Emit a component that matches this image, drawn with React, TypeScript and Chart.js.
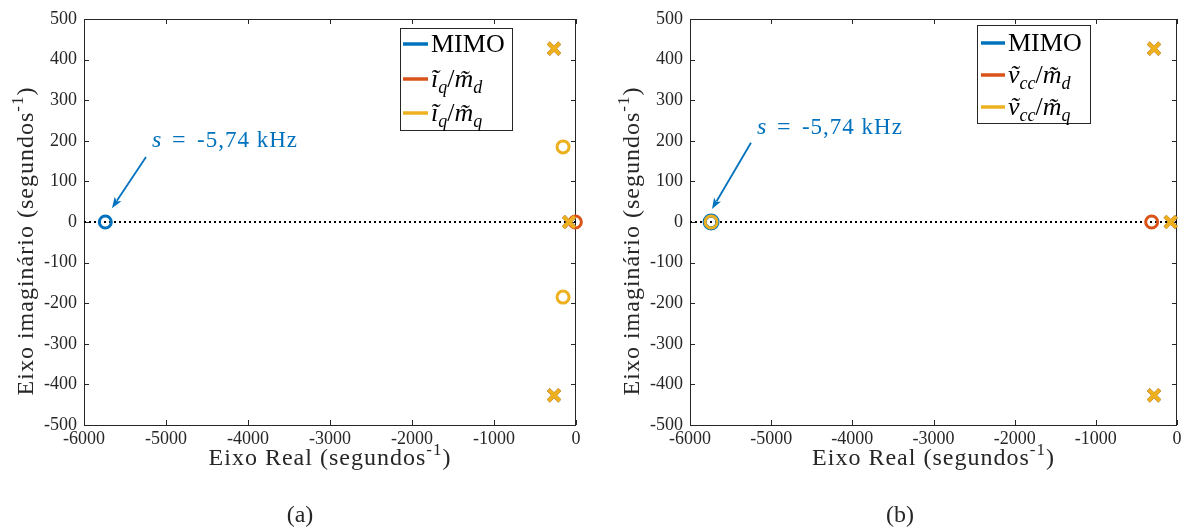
import React, { useEffect, useRef } from "react";
import { Chart, registerables } from "chart.js";

Chart.register(...registerables);

const BLUE = "#0072BD";
const RED = "#D95319";
const YELLOW = "#EDB120";
const AXIS = "#262626";
const FONT = "'Liberation Serif', 'Times New Roman', serif";

// ---- Shared ticks ----
const xTickValues = [-6000, -5000, -4000, -3000, -2000, -1000, 0];
const yTickValues = [-500, -400, -300, -200, -100, 0, 100, 200, 300, 400, 500];
const realAxisX = [-6000, 0];
const realAxisY = [0, 0];

// ---- Panel (a) ----
const aMimoZerosX = [-5740];
const aMimoZerosY = [0];
const aPolesX = [-268, -268, -85];
const aPolesY = [427, -427, 0];
const aIqMdZerosX = [-8];
const aIqMdZerosY = [0];
const aIqMqZerosX = [-158, -158];
const aIqMqZerosY = [185, -185];

// ---- Panel (b) ----
const bMimoZerosX = [-5740];
const bMimoZerosY = [0];
const bPolesX = [-283, -283, -78];
const bPolesY = [427, -427, 0];
const bVccMdZerosX = [-312];
const bVccMdZerosY = [0];
const bVccMqZerosX = [-5740];
const bVccMqZerosY = [0];

type Seg = { t: string; it?: boolean; sub?: boolean; sup?: boolean };

const pts = (xs: number[], ys: number[]) => xs.map((x, i) => ({ x, y: ys[i] }));

function drawRich(
  ctx: CanvasRenderingContext2D,
  segs: Seg[],
  x: number,
  y: number,
  size: number,
  color: string,
  align: "left" | "center",
  spacing = 0
) {
  const fontFor = (s: Seg) =>
    `${s.it ? "italic " : ""}${s.sub || s.sup ? Math.round(size * 0.7) : size}px ${FONT}`;
  ctx.save();
  (ctx as any).letterSpacing = `${spacing}px`;
  ctx.textAlign = "left";
  ctx.textBaseline = "alphabetic";
  ctx.fillStyle = color;
  const widths = segs.map((s) => {
    ctx.font = fontFor(s);
    return ctx.measureText(s.t).width;
  });
  const total = widths.reduce((a, b) => a + b, 0);
  let cx = align === "center" ? x - total / 2 : x;
  segs.forEach((s, i) => {
    ctx.font = fontFor(s);
    const dy = s.sub ? size * 0.22 : s.sup ? -size * 0.42 : 0;
    ctx.fillText(s.t, cx, y + dy);
    cx += widths[i];
  });
  ctx.restore();
}

type PanelCfg = {
  left: number;
  width: number;
  yAxisW: number;
  padRight: number;
  letter: string;
  letterX: number;
  yTitleX: number;
  legend: { x: number; y: number; w: number; h: number; lx1: number; lx2: number; tx: number; rows: number[] };
  rows: { color: string; segs: Seg[] }[];
  ann: { tx: number; ty: number; ax1: number; ay1: number; ax2: number; ay2: number };
  datasets: any[];
};

const zeroDs = (label: string, color: string, data: any[], order: number) => ({
  label,
  data,
  pointStyle: "circle",
  pointRadius: 6,
  pointBorderWidth: 3,
  pointBorderColor: color,
  pointBackgroundColor: "rgba(0,0,0,0)",
  showLine: false,
  clip: false,
  order,
});
const poleDs = (label: string, color: string, data: any[], order: number) => ({
  label,
  data,
  pointStyle: "crossRot",
  pointRadius: 8,
  pointBorderWidth: 4,
  pointBorderColor: color,
  pointBackgroundColor: color,
  showLine: false,
  clip: false,
  order,
});
const axisDs = () => ({
  label: "eixo",
  data: pts(realAxisX, realAxisY),
  showLine: true,
  borderColor: "#000",
  borderWidth: 2,
  borderDash: [2, 3],
  pointRadius: 0,
  clip: false,
  order: 10,
});

const iq: Seg[] = [{ t: "ĩ", it: true }, { t: "q", it: true, sub: true }];
const vcc: Seg[] = [{ t: "ṽ", it: true }, { t: "cc", it: true, sub: true }];
const md: Seg[] = [{ t: "/" }, { t: "m\u0303", it: true }, { t: "d", it: true, sub: true }];
const mq: Seg[] = [{ t: "/" }, { t: "m\u0303", it: true }, { t: "q", it: true, sub: true }];

const panels: PanelCfg[] = [
  {
    left: 0,
    width: 593,
    yAxisW: 84,
    padRight: 17,
    letter: "(a)",
    letterX: 300,
    yTitleX: 33,
    legend: { x: 400, y: 28, w: 112, h: 102, lx1: 403, lx2: 428, tx: 431, rows: [44, 79, 113] },
    rows: [
      { color: BLUE, segs: [{ t: "MIMO" }] },
      { color: RED, segs: [...iq, ...md] },
      { color: YELLOW, segs: [...iq, ...mq] },
    ],
    ann: { tx: -5171, ty: 185, ax1: -5244, ay1: 160, ax2: -5659, ay2: 34 },
    datasets: [
      zeroDs("iq/mq zeros", YELLOW, pts(aIqMqZerosX, aIqMqZerosY), 0),
      poleDs("iq/mq poles", YELLOW, pts(aPolesX, aPolesY), 1),
      zeroDs("iq/md zeros", RED, pts(aIqMdZerosX, aIqMdZerosY), 2),
      poleDs("iq/md poles", RED, pts(aPolesX, aPolesY), 3),
      zeroDs("MIMO zeros", BLUE, pts(aMimoZerosX, aMimoZerosY), 4),
      poleDs("MIMO poles", BLUE, pts(aPolesX, aPolesY), 5),
      axisDs(),
    ],
  },
  {
    left: 593,
    width: 594,
    yAxisW: 97,
    padRight: 10,
    letter: "(b)",
    letterX: 900,
    yTitleX: 639,
    legend: { x: 977, y: 25, w: 113, h: 98, lx1: 981, lx2: 1005, tx: 1008, rows: [43, 75, 107] },
    rows: [
      { color: BLUE, segs: [{ t: "MIMO" }] },
      { color: RED, segs: [...vcc, ...md] },
      { color: YELLOW, segs: [...vcc, ...mq] },
    ],
    ann: { tx: -5175, ty: 217, ax1: -5249, ay1: 195, ax2: -5729, ay2: 32 },
    datasets: [
      zeroDs("vcc/mq zeros", YELLOW, pts(bVccMqZerosX, bVccMqZerosY), 0),
      poleDs("vcc/mq poles", YELLOW, pts(bPolesX, bPolesY), 1),
      zeroDs("vcc/md zeros", RED, pts(bVccMdZerosX, bVccMdZerosY), 2),
      poleDs("vcc/md poles", RED, pts(bPolesX, bPolesY), 3),
      zeroDs("MIMO zeros", BLUE, pts(bMimoZerosX, bMimoZerosY), 4),
      {
        ...zeroDs("MIMO zeros outline", BLUE, pts(bMimoZerosX, bMimoZerosY), 5),
        pointRadius: 6.5,
        pointBorderWidth: 4,
      },
      poleDs("MIMO poles", BLUE, pts(bPolesX, bPolesY), 6),
      axisDs(),
    ],
  },
];

function makePlugin(p: PanelCfg) {
  return {
    id: "overlay",
    beforeDatasetsDraw(chart: any) {
      const { ctx, chartArea: ca, scales } = chart;
      ctx.save();
      ctx.strokeStyle = AXIS;
      ctx.lineWidth = 1;
      ctx.strokeRect(Math.round(ca.left) + 0.5, Math.round(ca.top) + 0.5, Math.round(ca.right - ca.left) - 1, Math.round(ca.bottom - ca.top));
      const tl = 5;
      ctx.beginPath();
      xTickValues.forEach((v) => {
        const px = Math.round(scales.x.getPixelForValue(v)) + 0.5;
        ctx.moveTo(px, ca.bottom);
        ctx.lineTo(px, ca.bottom - tl);
        ctx.moveTo(px, ca.top);
        ctx.lineTo(px, ca.top + tl);
      });
      yTickValues.forEach((v) => {
        const py = Math.round(scales.y.getPixelForValue(v)) + 0.5;
        ctx.moveTo(ca.left, py);
        ctx.lineTo(ca.left + tl, py);
        ctx.moveTo(ca.right, py);
        ctx.lineTo(ca.right - tl, py);
      });
      ctx.stroke();
      ctx.restore();
    },
    afterDraw(chart: any) {
      const { ctx, chartArea: ca, scales } = chart;
      const off = p.left;
      // axis titles
      const cx = (ca.left + ca.right) / 2;
      drawRich(ctx, [{ t: "Eixo Real (segundos" }, { t: "-1", sup: true }, { t: ")" }], cx, 465, 24, AXIS, "center", 1);
      ctx.save();
      ctx.translate(p.yTitleX - off, 241);
      ctx.rotate(-Math.PI / 2);
      drawRich(ctx, [{ t: "Eixo imaginário (segundos" }, { t: "-1", sup: true }, { t: ")" }], 0, 0, 24, AXIS, "center", 1);
      ctx.restore();
      // panel letter
      drawRich(ctx, [{ t: p.letter }], p.letterX - off, 522, 24, AXIS, "center", 0);

      // annotation
      const a = p.ann;
      const x1 = scales.x.getPixelForValue(a.ax1);
      const y1 = scales.y.getPixelForValue(a.ay1);
      const x2 = scales.x.getPixelForValue(a.ax2);
      const y2 = scales.y.getPixelForValue(a.ay2);
      const ang = Math.atan2(y2 - y1, x2 - x1);
      const hl = 11;
      const hw = 4;
      ctx.save();
      ctx.strokeStyle = BLUE;
      ctx.fillStyle = BLUE;
      ctx.lineWidth = 1.8;
      ctx.beginPath();
      ctx.moveTo(x1, y1);
      ctx.lineTo(x2 - Math.cos(ang) * hl * 0.8, y2 - Math.sin(ang) * hl * 0.8);
      ctx.stroke();
      ctx.beginPath();
      ctx.moveTo(x2, y2);
      ctx.lineTo(x2 - Math.cos(ang) * hl - Math.sin(ang) * hw, y2 - Math.sin(ang) * hl + Math.cos(ang) * hw);
      ctx.lineTo(x2 - Math.cos(ang) * hl * 0.75, y2 - Math.sin(ang) * hl * 0.75);
      ctx.lineTo(x2 - Math.cos(ang) * hl + Math.sin(ang) * hw, y2 - Math.sin(ang) * hl - Math.cos(ang) * hw);
      ctx.closePath();
      ctx.fill();
      ctx.restore();
      const tx = scales.x.getPixelForValue(a.tx);
      const ty = scales.y.getPixelForValue(a.ty);
      drawRich(ctx, [{ t: "s", it: true }], tx, ty, 24, BLUE, "left");
      drawRich(ctx, [{ t: "=" }], tx + 20, ty, 24, BLUE, "left");
      drawRich(ctx, [{ t: "-5,74 kHz" }], tx + 45, ty, 23, BLUE, "left", 1);

      // legend
      const L = p.legend;
      ctx.save();
      ctx.fillStyle = "#fff";
      ctx.fillRect(L.x - off, L.y, L.w, L.h);
      ctx.strokeStyle = AXIS;
      ctx.lineWidth = 1;
      ctx.strokeRect(L.x - off + 0.5, L.y + 0.5, L.w, L.h);
      p.rows.forEach((r, i) => {
        ctx.strokeStyle = r.color;
        ctx.lineWidth = 3.5;
        ctx.beginPath();
        ctx.moveTo(L.lx1 - off, L.rows[i]);
        ctx.lineTo(L.lx2 - off, L.rows[i]);
        ctx.stroke();
      });
      ctx.restore();
      p.rows.forEach((r, i) => {
        drawRich(ctx, r.segs, L.tx - off, L.rows[i] + 8, 26, "#000", "left");
      });
    },
  };
}

function Panel({ p }: { p: PanelCfg }) {
  const ref = useRef<HTMLCanvasElement>(null);
  useEffect(() => {
    const chart = new Chart(ref.current!, {
      type: "scatter",
      data: { datasets: p.datasets },
      options: {
        animation: false,
        responsive: false,
        devicePixelRatio: 1,
        layout: { autoPadding: false, padding: { left: 0, right: p.padRight, top: 19, bottom: 0 } },
        plugins: { legend: { display: false }, tooltip: { enabled: false } },
        scales: {
          x: {
            type: "linear",
            min: -6000,
            max: 0,
            afterBuildTicks: (s: any) => {
              s.ticks = xTickValues.map((v) => ({ value: v }));
            },
            afterFit: (s: any) => {
              s.height = 104;
            },
            grid: { display: false, drawTicks: false },
            border: { display: false },
            ticks: {
              autoSkip: false,
              maxRotation: 0,
              padding: 3,
              color: AXIS,
              font: { family: FONT, size: 18 },
              callback: (v: any) => String(v),
            },
          },
          y: {
            type: "linear",
            min: -500,
            max: 500,
            afterBuildTicks: (s: any) => {
              s.ticks = yTickValues.map((v) => ({ value: v }));
            },
            afterFit: (s: any) => {
              s.width = p.yAxisW;
            },
            grid: { display: false, drawTicks: false },
            border: { display: false },
            ticks: {
              autoSkip: false,
              padding: 7,
              color: AXIS,
              font: { family: FONT, size: 18 },
              callback: (v: any) => String(v),
            },
          },
        },
      } as any,
      plugins: [makePlugin(p)],
    });
    return () => chart.destroy();
  }, []);
  return (
    <canvas
      ref={ref}
      width={p.width}
      height={529}
      style={{ position: "absolute", left: p.left, top: 0, width: p.width, height: 529 }}
    />
  );
}

export default function App() {
  return (
    <div style={{ position: "absolute", left: 0, top: 0, width: 1187, height: 529, background: "#fff" }}>
      {panels.map((p, i) => (
        <Panel key={i} p={p} />
      ))}
    </div>
  );
}
